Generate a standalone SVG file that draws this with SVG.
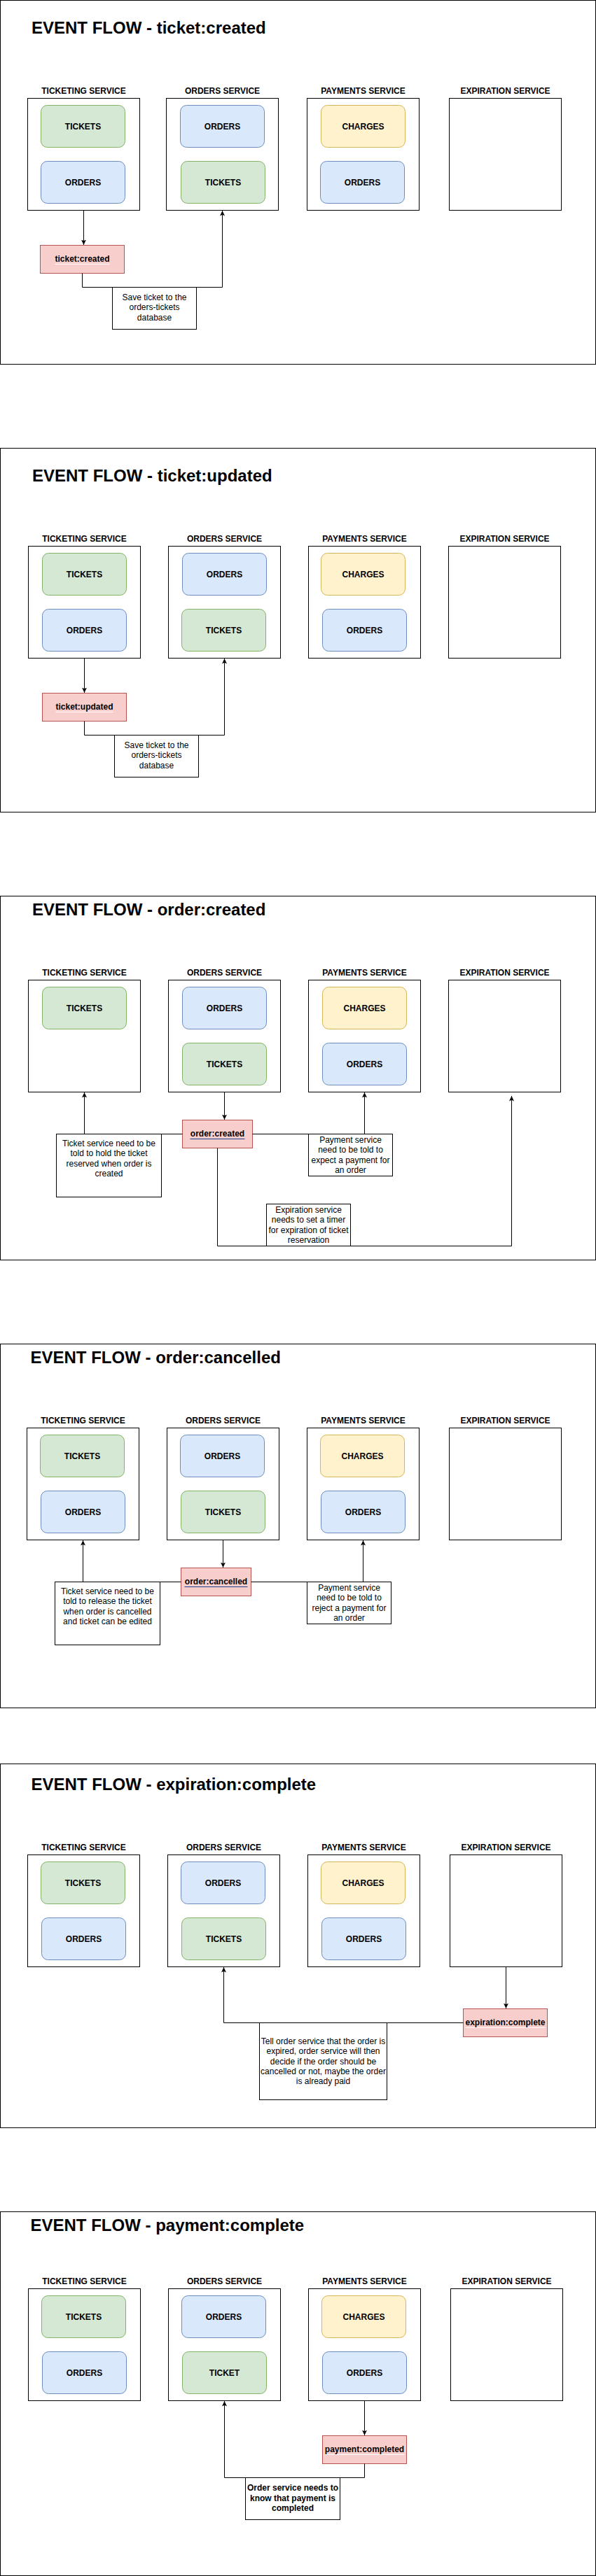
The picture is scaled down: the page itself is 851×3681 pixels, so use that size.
<svg xmlns="http://www.w3.org/2000/svg" width="851" height="3681" viewBox="0 0 851 3681">
<defs>
<style>
text{font-family:"Liberation Sans",Arial,Helvetica,sans-serif;fill:#000}
.frame{fill:#fff;stroke:#000;stroke-width:1}
.svc{fill:#fff;stroke:#000;stroke-width:1}
.g{fill:#d5e8d4;stroke:#82b366;stroke-width:1}
.b{fill:#dae8fc;stroke:#6c8ebf;stroke-width:1}
.y{fill:#fff2cc;stroke:#d6b656;stroke-width:1}
.r{fill:#f8cecc;stroke:#b85450;stroke-width:1}
.note{fill:#fff;stroke:#000;stroke-width:1}
.title{font-size:24px;font-weight:bold}
.lbl{font-size:12px;font-weight:bold;text-anchor:middle}
.txt{font-size:12px;text-anchor:middle}
.edge{fill:none;stroke:#000;stroke-width:1}
.ulw{stroke:#fff;stroke-width:1}
.ulb{stroke:#1b3f8b;stroke-width:1}
</style>
<marker id="arr" viewBox="0 0 8 8" refX="7.5" refY="4" markerWidth="8" markerHeight="8" orient="auto" markerUnits="userSpaceOnUse">
<path d="M0,0.5 L7.5,4 L0,7.5 L1.8,4 Z" fill="#000"/>
</marker>
</defs>
<rect x="0" y="0" width="851" height="3681" fill="#fff"/>

<!-- ============ SECTION 1 ============ -->
<g id="sec1">
<rect class="frame" x="0.5" y="0.5" width="850" height="520"/>
<text class="title" x="45" y="47.5">EVENT FLOW - ticket:created</text>
<g id="s1-ticketing">
<text class="lbl" x="119.5" y="134">TICKETING SERVICE</text>
<rect class="svc" x="39.5" y="140.5" width="160" height="160"/>
<rect class="g" x="58.5" y="150.5" width="120" height="60" rx="9"/><text class="lbl" x="118.5" y="184.5">TICKETS</text>
<rect class="b" x="58.5" y="230.5" width="120" height="60" rx="9"/><text class="lbl" x="118.5" y="264.5">ORDERS</text>
</g>
<g id="s1-orders">
<text class="lbl" x="317.5" y="134">ORDERS SERVICE</text>
<rect class="svc" x="237.5" y="140.5" width="160" height="160"/>
<rect class="b" x="257.5" y="150.5" width="120" height="60" rx="9"/><text class="lbl" x="317.5" y="184.5">ORDERS</text>
<rect class="g" x="258.5" y="230.5" width="120" height="60" rx="9"/><text class="lbl" x="318.5" y="264.5">TICKETS</text>
</g>
<g id="s1-payments">
<text class="lbl" x="518.5" y="134">PAYMENTS SERVICE</text>
<rect class="svc" x="438.5" y="140.5" width="160" height="160"/>
<rect class="y" x="458.5" y="150.5" width="120" height="60" rx="9"/><text class="lbl" x="518.5" y="184.5">CHARGES</text>
<rect class="b" x="457.5" y="230.5" width="120" height="60" rx="9"/><text class="lbl" x="517.5" y="264.5">ORDERS</text>
</g>
<g id="s1-expiration">
<text class="lbl" x="721.5" y="134">EXPIRATION SERVICE</text>
<rect class="svc" x="641.5" y="140.5" width="160" height="160"/>
</g>
<g id="s1-event">
<rect class="r" x="57.5" y="350.5" width="120" height="40"/>
<text class="lbl" x="117.5" y="374">ticket:created</text>
<line class="ulw" x1="78.5" y1="377.5" x2="156.5" y2="377.5"/>
</g>
<g id="s1-note">
<rect class="note" x="160.5" y="410.5" width="120" height="60"/>
<text class="txt" x="220.5" y="429">Save ticket to the</text>
<text class="txt" x="220.5" y="443.4">orders-tickets</text>
<text class="txt" x="220.5" y="457.8">database</text>
</g>
<g id="s1-connectors">
<path class="edge" d="M119.5,300.5 L119.5,350" marker-end="url(#arr)"/>
<path class="edge" d="M117.5,390.5 L117.5,410.5 L317.5,410.5 L317.5,301" marker-end="url(#arr)"/>
</g>
</g>

<!-- ============ SECTION 2 ============ -->
<g id="sec2">
<rect class="frame" x="0.5" y="640.5" width="850" height="520"/>
<text class="title" x="46" y="688">EVENT FLOW - ticket:updated</text>
<g id="s2-ticketing">
<text class="lbl" x="120.5" y="774">TICKETING SERVICE</text>
<rect class="svc" x="40.5" y="780.5" width="160" height="160"/>
<rect class="g" x="60.5" y="790.5" width="120" height="60" rx="9"/><text class="lbl" x="120.5" y="824.5">TICKETS</text>
<rect class="b" x="60.5" y="870.5" width="120" height="60" rx="9"/><text class="lbl" x="120.5" y="904.5">ORDERS</text>
</g>
<g id="s2-orders">
<text class="lbl" x="320.5" y="774">ORDERS SERVICE</text>
<rect class="svc" x="240.5" y="780.5" width="160" height="160"/>
<rect class="b" x="260.5" y="790.5" width="120" height="60" rx="9"/><text class="lbl" x="320.5" y="824.5">ORDERS</text>
<rect class="g" x="259.5" y="870.5" width="120" height="60" rx="9"/><text class="lbl" x="319.5" y="904.5">TICKETS</text>
</g>
<g id="s2-payments">
<text class="lbl" x="520.5" y="774">PAYMENTS SERVICE</text>
<rect class="svc" x="440.5" y="780.5" width="160" height="160"/>
<rect class="y" x="458.5" y="790.5" width="120" height="60" rx="9"/><text class="lbl" x="518.5" y="824.5">CHARGES</text>
<rect class="b" x="460.5" y="870.5" width="120" height="60" rx="9"/><text class="lbl" x="520.5" y="904.5">ORDERS</text>
</g>
<g id="s2-expiration">
<text class="lbl" x="720.5" y="774">EXPIRATION SERVICE</text>
<rect class="svc" x="640.5" y="780.5" width="160" height="160"/>
</g>
<g id="s2-event">
<rect class="r" x="60.5" y="990.5" width="120" height="40"/>
<text class="lbl" x="120.5" y="1014">ticket:updated</text>
<line class="ulw" x1="79.5" y1="1017.5" x2="161.5" y2="1017.5"/>
</g>
<g id="s2-note">
<rect class="note" x="163.5" y="1050.5" width="120" height="60"/>
<text class="txt" x="223.5" y="1069">Save ticket to the</text>
<text class="txt" x="223.5" y="1083.4">orders-tickets</text>
<text class="txt" x="223.5" y="1097.8">database</text>
</g>
<g id="s2-connectors">
<path class="edge" d="M120.5,940.5 L120.5,990" marker-end="url(#arr)"/>
<path class="edge" d="M120.5,1030.5 L120.5,1050.5 L320.5,1050.5 L320.5,941" marker-end="url(#arr)"/>
</g>
</g>

<!-- ============ SECTION 3 ============ -->
<g id="sec3">
<rect class="frame" x="0.5" y="1280.5" width="850" height="520"/>
<text class="title" x="46" y="1308">EVENT FLOW - order:created</text>
<g id="s3-ticketing">
<text class="lbl" x="120.5" y="1394">TICKETING SERVICE</text>
<rect class="svc" x="40.5" y="1400.5" width="160" height="160"/>
<rect class="g" x="60.5" y="1410.5" width="120" height="60" rx="9"/><text class="lbl" x="120.5" y="1444.5">TICKETS</text>
</g>
<g id="s3-orders">
<text class="lbl" x="320.5" y="1394">ORDERS SERVICE</text>
<rect class="svc" x="240.5" y="1400.5" width="160" height="160"/>
<rect class="b" x="260.5" y="1410.5" width="120" height="60" rx="9"/><text class="lbl" x="320.5" y="1444.5">ORDERS</text>
<rect class="g" x="260.5" y="1490.5" width="120" height="60" rx="9"/><text class="lbl" x="320.5" y="1524.5">TICKETS</text>
</g>
<g id="s3-payments">
<text class="lbl" x="520.5" y="1394">PAYMENTS SERVICE</text>
<rect class="svc" x="440.5" y="1400.5" width="160" height="160"/>
<rect class="y" x="460.5" y="1410.5" width="120" height="60" rx="9"/><text class="lbl" x="520.5" y="1444.5">CHARGES</text>
<rect class="b" x="460.5" y="1490.5" width="120" height="60" rx="9"/><text class="lbl" x="520.5" y="1524.5">ORDERS</text>
</g>
<g id="s3-expiration">
<text class="lbl" x="720.5" y="1394">EXPIRATION SERVICE</text>
<rect class="svc" x="640.5" y="1400.5" width="160" height="160"/>
</g>
<g id="s3-event">
<rect class="r" x="260.5" y="1600.5" width="100" height="40"/>
<text class="lbl" x="310.5" y="1624">order:created</text>
<line class="ulb" x1="271.5" y1="1627.5" x2="349.5" y2="1627.5"/>
</g>
<g id="s3-connectors">
<path class="edge" d="M320.5,1560.5 L320.5,1600" marker-end="url(#arr)"/>
<path class="edge" d="M260.5,1620.5 L120.5,1620.5 L120.5,1561" marker-end="url(#arr)"/>
<path class="edge" d="M360.5,1620.5 L520.5,1620.5 L520.5,1561" marker-end="url(#arr)"/>
<path class="edge" d="M310.5,1640.5 L310.5,1780.5 L730.5,1780.5 L730.5,1566" marker-end="url(#arr)"/>
</g>
<g id="s3-note-ticket">
<rect class="note" x="80.5" y="1620.5" width="150" height="90"/>
<text class="txt" x="155.5" y="1638">Ticket service need to be</text>
<text class="txt" x="155.5" y="1652.4">told to hold the ticket</text>
<text class="txt" x="155.5" y="1666.8">reserved when order is</text>
<text class="txt" x="155.5" y="1681.2">created</text>
</g>
<g id="s3-note-payment">
<rect class="note" x="440.5" y="1620.5" width="120" height="60"/>
<text class="txt" x="500.5" y="1633">Payment service</text>
<text class="txt" x="500.5" y="1647.4">need to be told to</text>
<text class="txt" x="500.5" y="1661.8">expect a payment for</text>
<text class="txt" x="500.5" y="1676.2">an order</text>
</g>
<g id="s3-note-expiration">
<rect class="note" x="380.5" y="1720.5" width="120" height="60"/>
<text class="txt" x="440.5" y="1733">Expiration service</text>
<text class="txt" x="440.5" y="1747.4">needs to set a timer</text>
<text class="txt" x="440.5" y="1761.8">for expiration of ticket</text>
<text class="txt" x="440.5" y="1776.2">reservation</text>
</g>
</g>

<!-- ============ SECTION 4 ============ -->
<g id="sec4">
<rect class="frame" x="0.5" y="1920.5" width="850" height="520"/>
<text class="title" x="43.5" y="1948">EVENT FLOW - order:cancelled</text>
<g id="s4-ticketing">
<text class="lbl" x="118.5" y="2034">TICKETING SERVICE</text>
<rect class="svc" x="38.5" y="2040.5" width="160" height="160"/>
<rect class="g" x="57.5" y="2050.5" width="120" height="60" rx="9"/><text class="lbl" x="117.5" y="2084.5">TICKETS</text>
<rect class="b" x="58.5" y="2130.5" width="120" height="60" rx="9"/><text class="lbl" x="118.5" y="2164.5">ORDERS</text>
</g>
<g id="s4-orders">
<text class="lbl" x="318.5" y="2034">ORDERS SERVICE</text>
<rect class="svc" x="238.5" y="2040.5" width="160" height="160"/>
<rect class="b" x="257.5" y="2050.5" width="120" height="60" rx="9"/><text class="lbl" x="317.5" y="2084.5">ORDERS</text>
<rect class="g" x="258.5" y="2130.5" width="120" height="60" rx="9"/><text class="lbl" x="318.5" y="2164.5">TICKETS</text>
</g>
<g id="s4-payments">
<text class="lbl" x="518.5" y="2034">PAYMENTS SERVICE</text>
<rect class="svc" x="438.5" y="2040.5" width="160" height="160"/>
<rect class="y" x="457.5" y="2050.5" width="120" height="60" rx="9"/><text class="lbl" x="517.5" y="2084.5">CHARGES</text>
<rect class="b" x="458.5" y="2130.5" width="120" height="60" rx="9"/><text class="lbl" x="518.5" y="2164.5">ORDERS</text>
</g>
<g id="s4-expiration">
<text class="lbl" x="721.5" y="2034">EXPIRATION SERVICE</text>
<rect class="svc" x="641.5" y="2040.5" width="160" height="160"/>
</g>
<g id="s4-event">
<rect class="r" x="258.5" y="2240.5" width="100" height="40"/>
<text class="lbl" x="308.5" y="2264">order:cancelled</text>
<line class="ulb" x1="263.5" y1="2267.5" x2="353.5" y2="2267.5"/>
</g>
<g id="s4-connectors">
<path class="edge" d="M318.5,2200.5 L318.5,2240" marker-end="url(#arr)"/>
<path class="edge" d="M258.5,2260.5 L118.5,2260.5 L118.5,2201" marker-end="url(#arr)"/>
<path class="edge" d="M358.5,2260.5 L518.5,2260.5 L518.5,2201" marker-end="url(#arr)"/>
</g>
<g id="s4-note-ticket">
<rect class="note" x="78.5" y="2260.5" width="150" height="90"/>
<text class="txt" x="153.5" y="2278">Ticket service need to be</text>
<text class="txt" x="153.5" y="2292.4">told to release the ticket</text>
<text class="txt" x="153.5" y="2306.8">when order is cancelled</text>
<text class="txt" x="153.5" y="2321.2">and ticket can be edited</text>
</g>
<g id="s4-note-payment">
<rect class="note" x="438.5" y="2260.5" width="120" height="60"/>
<text class="txt" x="498.5" y="2273">Payment service</text>
<text class="txt" x="498.5" y="2287.4">need to be told to</text>
<text class="txt" x="498.5" y="2301.8">reject a payment for</text>
<text class="txt" x="498.5" y="2316.2">an order</text>
</g>
</g>

<!-- ============ SECTION 5 ============ -->
<g id="sec5">
<rect class="frame" x="0.5" y="2520.5" width="850" height="520"/>
<text class="title" x="44.5" y="2558">EVENT FLOW - expiration:complete</text>
<g id="s5-ticketing">
<text class="lbl" x="119.5" y="2644">TICKETING SERVICE</text>
<rect class="svc" x="39.5" y="2650.5" width="160" height="160"/>
<rect class="g" x="58.5" y="2660.5" width="120" height="60" rx="9"/><text class="lbl" x="118.5" y="2694.5">TICKETS</text>
<rect class="b" x="59.5" y="2740.5" width="120" height="60" rx="9"/><text class="lbl" x="119.5" y="2774.5">ORDERS</text>
</g>
<g id="s5-orders">
<text class="lbl" x="319.5" y="2644">ORDERS SERVICE</text>
<rect class="svc" x="239.5" y="2650.5" width="160" height="160"/>
<rect class="b" x="258.5" y="2660.5" width="120" height="60" rx="9"/><text class="lbl" x="318.5" y="2694.5">ORDERS</text>
<rect class="g" x="259.5" y="2740.5" width="120" height="60" rx="9"/><text class="lbl" x="319.5" y="2774.5">TICKETS</text>
</g>
<g id="s5-payments">
<text class="lbl" x="519.5" y="2644">PAYMENTS SERVICE</text>
<rect class="svc" x="439.5" y="2650.5" width="160" height="160"/>
<rect class="y" x="458.5" y="2660.5" width="120" height="60" rx="9"/><text class="lbl" x="518.5" y="2694.5">CHARGES</text>
<rect class="b" x="459.5" y="2740.5" width="120" height="60" rx="9"/><text class="lbl" x="519.5" y="2774.5">ORDERS</text>
</g>
<g id="s5-expiration">
<text class="lbl" x="722.5" y="2644">EXPIRATION SERVICE</text>
<rect class="svc" x="642.5" y="2650.5" width="160" height="160"/>
</g>
<g id="s5-event">
<rect class="r" x="661.5" y="2870.5" width="120" height="40"/>
<text class="lbl" x="721.5" y="2894">expiration:complete</text>
<line class="ulw" x1="664.5" y1="2897.5" x2="778.5" y2="2897.5"/>
</g>
<g id="s5-note">
<rect class="note" x="370.5" y="2890.5" width="182" height="110"/>
<text class="txt" x="461.5" y="2920.7">Tell order service that the order is</text>
<text class="txt" x="461.5" y="2935.1">expired, order service will then</text>
<text class="txt" x="461.5" y="2949.5">decide if the order should be</text>
<text class="txt" x="461.5" y="2963.9">cancelled or not, maybe the order</text>
<text class="txt" x="461.5" y="2978.3">is already paid</text>
</g>
<g id="s5-connectors">
<path class="edge" d="M722.5,2810.5 L722.5,2870" marker-end="url(#arr)"/>
<path class="edge" d="M661.5,2890.5 L319.5,2890.5 L319.5,2811" marker-end="url(#arr)"/>
</g>
</g>

<!-- ============ SECTION 6 ============ -->
<g id="sec6">
<rect class="frame" x="0.5" y="3160.5" width="850" height="520"/>
<text class="title" x="43.5" y="3188">EVENT FLOW - payment:complete</text>
<g id="s6-ticketing">
<text class="lbl" x="120.5" y="3264">TICKETING SERVICE</text>
<rect class="svc" x="40.5" y="3270.5" width="160" height="160"/>
<rect class="g" x="59.5" y="3280.5" width="120" height="60" rx="9"/><text class="lbl" x="119.5" y="3314.5">TICKETS</text>
<rect class="b" x="60.5" y="3360.5" width="120" height="60" rx="9"/><text class="lbl" x="120.5" y="3394.5">ORDERS</text>
</g>
<g id="s6-orders">
<text class="lbl" x="320.5" y="3264">ORDERS SERVICE</text>
<rect class="svc" x="240.5" y="3270.5" width="160" height="160"/>
<rect class="b" x="259.5" y="3280.5" width="120" height="60" rx="9"/><text class="lbl" x="319.5" y="3314.5">ORDERS</text>
<rect class="g" x="260.5" y="3360.5" width="120" height="60" rx="9"/><text class="lbl" x="320.5" y="3394.5">TICKET</text>
</g>
<g id="s6-payments">
<text class="lbl" x="520.5" y="3264">PAYMENTS SERVICE</text>
<rect class="svc" x="440.5" y="3270.5" width="160" height="160"/>
<rect class="y" x="459.5" y="3280.5" width="120" height="60" rx="9"/><text class="lbl" x="519.5" y="3314.5">CHARGES</text>
<rect class="b" x="460.5" y="3360.5" width="120" height="60" rx="9"/><text class="lbl" x="520.5" y="3394.5">ORDERS</text>
</g>
<g id="s6-expiration">
<text class="lbl" x="723.5" y="3264">EXPIRATION SERVICE</text>
<rect class="svc" x="643.5" y="3270.5" width="160" height="160"/>
</g>
<g id="s6-event">
<rect class="r" x="460.5" y="3480.5" width="120" height="40"/>
<text class="lbl" x="520.5" y="3504">payment:completed</text>
<line class="ulw" x1="463.5" y1="3507.5" x2="577.5" y2="3507.5"/>
</g>
<g id="s6-note">
<rect class="note" x="350.5" y="3540.5" width="135" height="60"/>
<text class="lbl" x="418" y="3559.3">Order service needs to</text>
<text class="lbl" x="418" y="3573.7">know that payment is</text>
<text class="lbl" x="418" y="3588.1">completed</text>
</g>
<g id="s6-connectors">
<path class="edge" d="M520.5,3430.5 L520.5,3480" marker-end="url(#arr)"/>
<path class="edge" d="M520.5,3520.5 L520.5,3540.5 L320.5,3540.5 L320.5,3431" marker-end="url(#arr)"/>
</g>
</g>
</svg>
